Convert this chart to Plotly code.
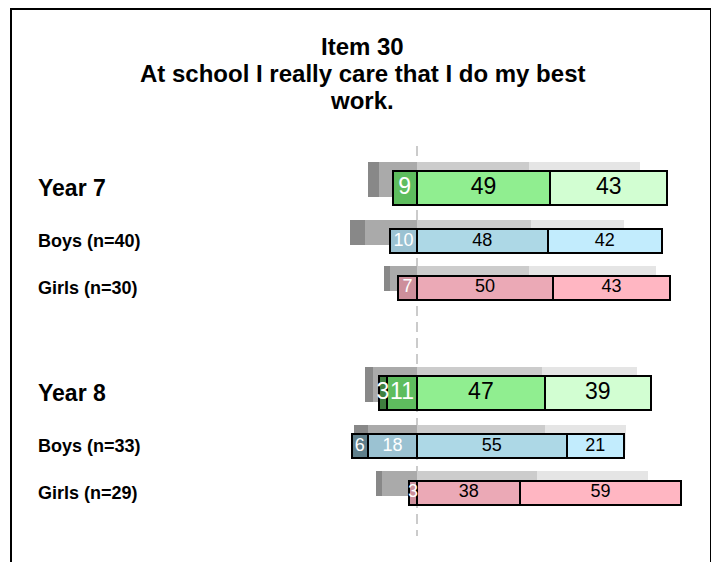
import plotly.graph_objects as go

# ---------------- data ----------------
categories = ["Year 7", "Boys (n=40)", "Girls (n=30)", "Year 8", "Boys (n=33)", "Girls (n=29)"]
is_year = [True, False, False, True, False, False]
group = ["all", "boys", "girls", "all", "boys", "girls"]

# response percentages (labelled bars)
strongly_disagree = [0, 0, 0, 3, 6, 0]
disagree = [9, 10, 7, 11, 18, 3]
agree = [49, 48, 50, 47, 55, 38]
strongly_agree = [43, 42, 43, 39, 21, 59]

# comparison percentages (grey background bars)
cmp_strongly_disagree = [4, 5.5, 2, 3, 5, 2]
cmp_disagree = [14, 19, 10, 16, 18, 13]
cmp_agree = [41, 42, 41, 46, 47, 44]
cmp_strongly_agree = [41, 34, 47, 35, 30, 41]

title_lines = ["Item 30", "At school I really care that I do my best", "work."]

# ---------------- styling / layout ----------------
OFF = 8                      # page body margin
W, H = 719 - OFF, 562 - OFF  # figure size
zero_px = 417 - OFF
px_per_pct = 2.72
row_y = [188, 241, 287.5, 393, 446, 492.5]      # vertical slots (page px)
shadow_shift = -9
bar_h = {True: 34, False: 24}
val_font = {True: 23, False: 18}
lab_font = {True: 23, False: 18}

palette = {
    "all":   ["#3f7f3f", "#5ebd5e", "#90ee90", "#d2fed2"],
    "boys":  ["#5f7f8b", "#9bc2d2", "#add8e6", "#c2ecfd"],
    "girls": ["#a8707c", "#cd8f9b", "#eba9b6", "#ffb6c2"],
}
grey = ["#888888", "#aaaaaa", "#cccccc", "#e5e5e5"]

FONT = "Liberation Sans, Arial, sans-serif"

fig = go.Figure()

n = len(categories)
ys = row_y
sy = [y + shadow_shift for y in row_y]
hh = [bar_h[b] + 1 for b in is_year]
hc = [bar_h[b] for b in is_year]

# grey comparison bars
cmp_segments = [
    ([-(d + s) for d, s in zip(cmp_disagree, cmp_strongly_disagree)], cmp_strongly_disagree, grey[0]),
    ([-d for d in cmp_disagree], cmp_disagree, grey[1]),
    ([0] * n, cmp_agree, grey[2]),
    (cmp_agree, cmp_strongly_agree, grey[3]),
]
for base, vals, col in cmp_segments:
    fig.add_trace(go.Bar(
        orientation="h", y=sy, x=vals, base=base, width=hh,
        marker=dict(color=col, line=dict(width=0)),
        hoverinfo="skip", showlegend=False,
    ))

# coloured response bars
seg_defs = [
    ([-(d + s) for d, s in zip(disagree, strongly_disagree)], strongly_disagree, 0),
    ([-d for d in disagree], disagree, 1),
    ([0] * n, agree, 2),
    (agree, strongly_agree, 3),
]
for base, vals, k in seg_defs:
    cols = [palette[g][k] for g in group]
    fig.add_trace(go.Bar(
        orientation="h", y=ys, x=vals, base=base, width=hc,
        marker=dict(color=cols, line=dict(color="black", width=2)),
        hoverinfo="skip", showlegend=False,
    ))

# value labels
for base, vals, k in seg_defs:
    xs, yy, tx, sz, fc = [], [], [], [], []
    for i in range(n):
        if vals[i] <= 0:
            continue
        xs.append(base[i] + vals[i] / 2)
        yy.append(ys[i])
        tx.append(str(vals[i]))
        sz.append(val_font[is_year[i]])
        fc.append("white" if k < 2 else "black")
    fig.add_trace(go.Scatter(
        x=xs, y=yy, text=tx, mode="text",
        textfont=dict(family=FONT, size=sz, color=fc),
        textposition="middle center",
        hoverinfo="skip", showlegend=False, cliponaxis=False,
    ))

x_min = -zero_px / px_per_pct
x_max = (W - zero_px) / px_per_pct

# dashed zero line
fig.add_shape(type="line", xref="x", yref="y", x0=0, x1=0, y0=146, y1=536,
              line=dict(color="#bbbbbb", width=1.5, dash="10px,6px"), layer="below")

# frame
fig.add_shape(type="rect", xref="paper", yref="paper",
              x0=(11 - OFF) / W, x1=(711 - OFF) / W, y0=-0.05, y1=1 - 1 / H,
              line=dict(color="black", width=2), fillcolor="rgba(0,0,0,0)")

# row labels
for i, c in enumerate(categories):
    fig.add_annotation(
        xref="paper", yref="y", x=(36 - OFF) / W, y=ys[i], text="<b>%s</b>" % c,
        showarrow=False, xanchor="left", yanchor="middle",
        font=dict(family=FONT, size=lab_font[is_year[i]], color="black"),
    )

# title
for line, yc in zip(title_lines, [46, 73.5, 100.5]):
    fig.add_annotation(
        xref="paper", yref="y", x=(362 - OFF) / W, y=yc, text="<b>%s</b>" % line,
        showarrow=False, xanchor="center", yanchor="middle",
        font=dict(family=FONT, size=24, color="black"),
    )

fig.update_layout(
    width=W, height=H, margin=dict(l=0, r=0, t=0, b=0),
    paper_bgcolor="white", plot_bgcolor="white",
    barmode="overlay", bargap=0,
    xaxis=dict(range=[x_min, x_max], visible=False, fixedrange=True),
    yaxis=dict(range=[562, OFF], visible=False, fixedrange=True),
    showlegend=False,
)

fig.write_html("out.html")
